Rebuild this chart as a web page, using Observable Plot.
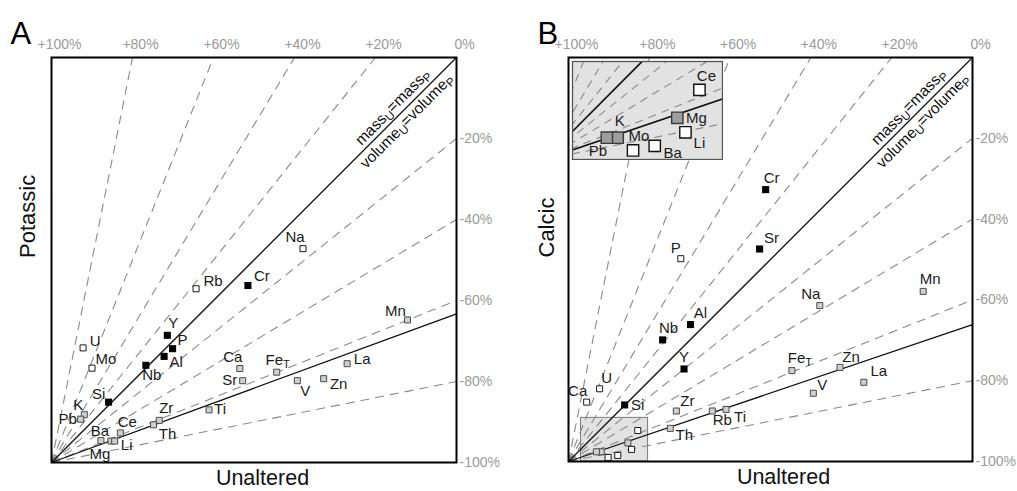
<!DOCTYPE html>
<html><head><meta charset="utf-8">
<script src="https://cdn.jsdelivr.net/npm/d3@7"></script>
<script src="https://cdn.jsdelivr.net/npm/@observablehq/plot@0.6"></script>
<style>
body{margin:0;background:#fff;}
#wrap{position:relative;width:1017px;height:491px;overflow:hidden;font-family:"Liberation Sans",Arial,sans-serif;}
#wrap svg{position:absolute;}
</style></head><body><div id="wrap"></div>
<script>
// ---- reference lines (percent gain / loss rays) ----
const gainTicks = [100, 80, 60, 40, 20, 0];
const lossTicks = [20, 40, 60, 80, 100];
const gainRays = [80, 60, 40, 20];
const lossRays = [20, 40, 60, 80];
const isoconA = 36.7;   // isocon end (right edge) for Potassic
const isoconB = 33.9;   // isocon end (right edge) for Calcic

// ---- Panel A : Potassic vs Unaltered ----
const elementsA = ["Na","Rb","Cr","Mn","Y","P","Al","U","Mo","Nb","Ca","Sr","FeT","La","V","Zn","Si","Ti","Zr","Th","K","Pb","Ce","Ba","Mg","Li"];
const unalteredA = [62.1,35.7,48.5,87.9,28.6,29.9,27.8,7.8,10.0,23.3,46.5,47.2,55.6,73.0,60.7,67.2,14.1,38.9,26.6,25.2,8.1,7.2,17.0,12.2,14.7,15.6];
const potassic   = [52.8,42.9,43.7,35.2,31.4,28.1,26.2,28.3,23.3,24.0,23.2,20.2,22.3,24.4,20.2,20.7,14.9,13.0,10.4,9.3,11.8,10.7,7.3,5.4,5.3,5.3];
const groupA = ["open","open","immobile","gray","immobile","immobile","immobile","open","open","immobile","gray","gray","gray","gray","gray","gray","immobile","gray","gray","gray","gray","gray","gray","gray","gray","gray"];

// ---- Panel B : Calcic vs Unaltered ----
const elementsB = ["Cr","Sr","P","Mn","Na","Al","Nb","Y","FeT","Zn","La","V","U","Ca","Si","Zr","Rb","Ti","Th","Ce","Mg","Li","Ba","Mo","K","Pb"];
const unalteredB = [48.8,47.3,27.8,87.8,62.2,30.2,23.3,28.6,55.3,67.2,73.1,60.6,7.7,4.5,13.9,26.7,35.6,39.0,25.2,17.15,14.7,15.6,12.2,9.8,8.1,6.9];
const calcic     = [67.3,52.6,50.2,42.1,38.6,33.9,30.1,22.9,22.5,23.3,19.6,16.9,18.0,14.7,14.0,12.5,12.5,12.9,8.2,7.67,4.6,3.0,1.5,1.0,2.4,2.4];
const groupB = ["immobile","immobile","open","gray","gray","immobile","immobile","immobile","gray","gray","gray","gray","open","open","immobile","gray","gray","gray","gray","open","gray","open","open","open","gray","gray"];
const insetElements = ["Ce","Mg","Li","Ba","Mo","K","Pb"];
const zoomBox = {x1: 3.1, x2: 19.7, y1: 0, y2: 10.8};

// ---- label placement (px offsets from marker) ----
const labelOffA = {Na:[-8,-11],Rb:[17,-8],Cr:[14,-9],Mn:[-12,-9],Y:[6,-12],P:[10,-9],Al:[12,6],U:[12,-7],Mo:[14,-9],Nb:[6,10],Ca:[-7,-11],Sr:[-13,-1],FeT:[1,-12],La:[15,-4],V:[8,10],Zn:[15,6],Si:[-10,-8],Ti:[11,-1],Zr:[7,-12],Th:[14,9],K:[-6,-10],Pb:[-13,0],Ce:[7,-11],Ba:[-1,-9],Mg:[-11,13],Li:[12,4]};
const labelOffB = {Cr:[6,-11],Sr:[12,-11],P:[-5,-11],Mn:[7,-12],Na:[-9,-11],Al:[10,-11],Nb:[6,-12],Y:[0,-12],FeT:[8,-12],Zn:[11,-10],La:[15,-11],V:[9,-8],U:[7,-11],Ca:[-9,-11],Si:[13,0],Zr:[11,-10],Rb:[10,9],Ti:[14,8],Th:[14,7]};
const labelOffInset = {Ce:[7,-14],Mg:[19,0],K:[2,-17],Pb:[-9,13],Mo:[6,-14],Ba:[18,7],Li:[14,11]};

const FONT = "Liberation Sans, Arial, sans-serif";
const LABEL_SIZE = 15;
const markerStyle = {
  gray: {fill: "#cfcfcf", stroke: "#4a4a4a", r: 3.4, sw: 1},
  open: {fill: "#ffffff", stroke: "#1a1a1a", r: 3.4, sw: 1},
  immobile: {fill: "#000000", stroke: "none", r: 4.0, sw: 0}
};
const insetStyle = {
  gray: {fill: "#9e9e9e", stroke: "#3a3a3a", r: 6.4, sw: 1.4},
  open: {fill: "#ffffff", stroke: "#111111", r: 6.4, sw: 1.4}
};

function rays() {
  return [...gainRays.map(p => ({x: 100 - p, y: 100})), ...lossRays.map(p => ({x: 100, y: 100 - p}))];
}
function solids(iso) { return [{x: 100, y: 100}, {x: 100, y: iso}]; }

function panel(cfg) {
  const pts = cfg.names.map((n, i) => ({name: n, x: cfg.xs[i], y: cfg.ys[i], g: cfg.groups[i]}));
  const marks = [];
  if (cfg.box) marks.push(Plot.rect([cfg.box], {x1: "x1", x2: "x2", y1: "y1", y2: "y2", fill: "#e2e2e2", stroke: "#7a7a7a", strokeWidth: 1}));
  marks.push(Plot.link(rays(), {x1: () => 0, y1: () => 0, x2: "x", y2: "y", stroke: "#8a8a8a", strokeWidth: 1.1, strokeDasharray: "9,6"}));
  marks.push(Plot.link(solids(cfg.isocon), {x1: () => 0, y1: () => 0, x2: "x", y2: "y", stroke: "#111", strokeWidth: 1.3}));
  for (const g of ["gray", "open", "immobile"]) {
    const s = markerStyle[g];
    marks.push(Plot.dot(pts.filter(d => d.g === g), {x: "x", y: "y", symbol: "square", r: s.r, fill: s.fill, stroke: s.stroke, strokeWidth: s.sw}));
  }
  for (const d of pts) {
    const o = cfg.offsets[d.name];
    if (!o) continue;
    marks.push(Plot.text([d], {x: "x", y: "y", text: "name", dx: o[0], dy: o[1], fontSize: LABEL_SIZE, fill: "#1a1a1a"}));
  }
  marks.push(Plot.frame({stroke: "#000", strokeWidth: 2}));
  // tick labels
  marks.push(Plot.text(gainTicks, {x: p => 100 - p, y: () => 100, text: p => p === 0 ? "0%" : `+${p}%`, dx: 8, dy: -13, fontSize: 14, fill: "#9a9a9a"}));
  marks.push(Plot.text(lossTicks, {x: () => 100, y: p => 100 - p, text: p => `-${p}%`, dx: 3, textAnchor: "start", fontSize: 14, fill: "#9a9a9a"}));
  // diagonal annotation
  marks.push(Plot.text(["massU=massP"], {x: () => 86, y: () => 86, text: d => d, rotate: -45, dx: -6.8, dy: -6.8, fontSize: 15.5, fill: "#111"}));
  marks.push(Plot.text(["volumeU=volumeP"], {x: () => 86, y: () => 86, text: d => d, rotate: -45, dx: 7.2, dy: 7.2, fontSize: 15.5, fill: "#111"}));
  // titles
  marks.push(Plot.text([cfg.letter], {frameAnchor: "top-left", text: d => d, textAnchor: "start", dx: cfg.letterDx, dy: -36, fontSize: 31, fill: "#000"}));
  marks.push(Plot.text([cfg.ylabel], {frameAnchor: "left", text: d => d, rotate: -90, dx: cfg.ylabDx, dy: -2, fontSize: 22, fill: "#111"}));
  marks.push(Plot.text(["Unaltered"], {frameAnchor: "bottom", text: d => d, dx: cfg.xlabDx, dy: 22, fontSize: 21.5, fill: "#111"}));

  return Plot.plot({
    width: cfg.width, height: 491,
    marginLeft: cfg.ml, marginRight: cfg.mr, marginTop: 57, marginBottom: cfg.mb,
    x: {domain: [0, 100], axis: null},
    y: {domain: [0, 100], axis: null},
    style: {fontFamily: FONT, background: "transparent", overflow: "visible"},
    marks
  });
}

function insetPlot() {
  const pts = elementsB.map((n, i) => ({name: n, x: unalteredB[i], y: calcic[i], g: groupB[i]})).filter(d => insetElements.includes(d.name));
  const marks = [
    Plot.frame({fill: "#e2e2e2"}),
    Plot.link(rays(), {x1: () => 0, y1: () => 0, x2: "x", y2: "y", stroke: "#8a8a8a", strokeWidth: 1.1, strokeDasharray: "8,6", clip: true}),
    Plot.link(solids(isoconB), {x1: () => 0, y1: () => 0, x2: "x", y2: "y", stroke: "#111", strokeWidth: 1.7, clip: true})
  ];
  for (const g of ["gray", "open"]) {
    const s = insetStyle[g];
    marks.push(Plot.dot(pts.filter(d => d.g === g), {x: "x", y: "y", symbol: "square", r: s.r, fill: s.fill, stroke: s.stroke, strokeWidth: s.sw}));
  }
  for (const d of pts) {
    const o = labelOffInset[d.name];
    marks.push(Plot.text([d], {x: "x", y: "y", text: "name", dx: o[0], dy: o[1], fontSize: LABEL_SIZE, fill: "#1a1a1a"}));
  }
  marks.push(Plot.frame({stroke: "#555", strokeWidth: 1.3}));
  return Plot.plot({
    width: 152, height: 100, margin: 1,
    x: {domain: [zoomBox.x1, zoomBox.x2], axis: null},
    y: {domain: [zoomBox.y1, zoomBox.y2], axis: null},
    style: {fontFamily: FONT, background: "transparent"},
    marks
  });
}

function subscripts(svg) {
  const NS = "http://www.w3.org/2000/svg";
  const build = (t, parts) => {
    t.textContent = "";
    for (const [txt, sub] of parts) {
      const ts = document.createElementNS(NS, "tspan");
      ts.textContent = txt;
      if (sub === 1) { ts.setAttribute("font-size", "0.75em"); ts.setAttribute("dy", "0.25em"); }
      if (sub === -1) { ts.setAttribute("dy", "-0.25em"); }
      t.appendChild(ts);
    }
  };
  svg.querySelectorAll("text").forEach(t => {
    const s = t.textContent;
    if (s === "FeT") build(t, [["Fe", 0], ["T", 1]]);
    else if (s === "massU=massP") build(t, [["mass", 0], ["U", 1], ["=mass", -1], ["P", 1]]);
    else if (s === "volumeU=volumeP") build(t, [["volume", 0], ["U", 1], ["=volume", -1], ["P", 1]]);
  });
}

const wrap = document.getElementById("wrap");
const svgA = panel({letter: "A", ylabel: "Potassic", names: elementsA, xs: unalteredA, ys: potassic, groups: groupA, offsets: labelOffA, isocon: isoconA,
  width: 508, ml: 51, mr: 52, mb: 29, letterDx: -41, ylabDx: -23.5, xlabDx: 8.5});
svgA.style.left = "0px"; svgA.style.top = "0px";
subscripts(svgA);
wrap.appendChild(svgA);

const svgB = panel({letter: "B", ylabel: "Calcic", names: elementsB, xs: unalteredB, ys: calcic, groups: groupB, offsets: labelOffB, isocon: isoconB, box: zoomBox,
  width: 509, ml: 60, mr: 45, mb: 30, letterDx: -31, ylabDx: -21.5, xlabDx: 13});
svgB.style.left = "508px"; svgB.style.top = "0px";
subscripts(svgB);
wrap.appendChild(svgB);

const svgI = insetPlot();
svgI.style.left = "571.3px"; svgI.style.top = "59.7px";
wrap.appendChild(svgI);
</script></body></html>
